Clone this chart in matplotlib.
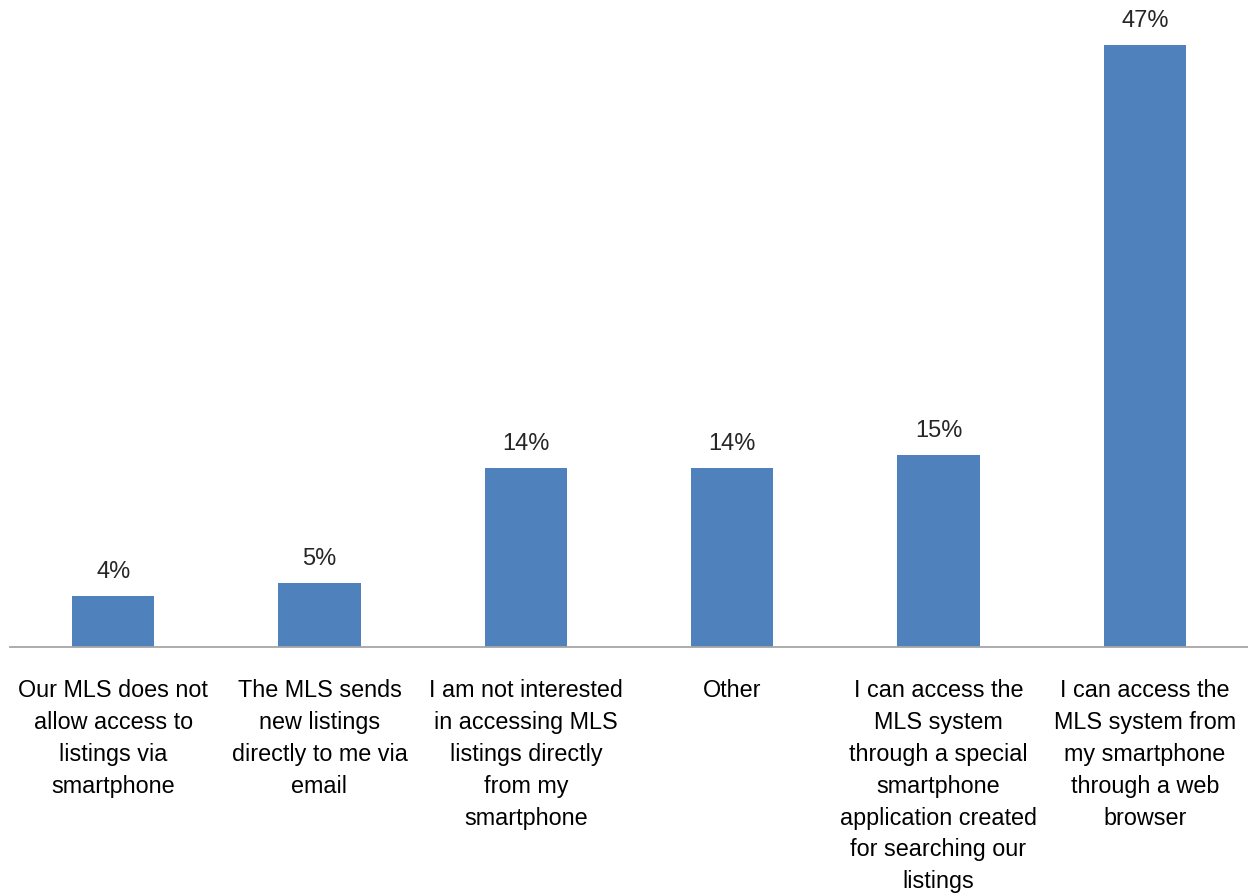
import numpy as np
import matplotlib.pyplot as plt

# Survey responses: how agents reach MLS listings from a smartphone
categories = [
    "Our MLS does not\nallow access to\nlistings via\nsmartphone",
    "The MLS sends\nnew listings\ndirectly to me via\nemail",
    "I am not interested\nin accessing MLS\nlistings directly\nfrom my\nsmartphone",
    "Other",
    "I can access the\nMLS system\nthrough a special\nsmartphone\napplication created\nfor searching our\nlistings",
    "I can access the\nMLS system from\nmy smartphone\nthrough a web\nbrowser",
]
shares = [4, 5, 14, 14, 15, 47]

plt.rcParams['font.family'] = ['Liberation Sans', 'DejaVu Sans']

fig = plt.figure(figsize=(12.48, 8.95), dpi=100)
ax = fig.add_axes([10 / 1248, 1 - 648 / 895, 1238 / 1248, 640 / 895])

x = np.arange(len(shares))
bars = ax.bar(x, shares, width=0.4, color='#4F81BD', zorder=2)

for xi, v in zip(x, shares):
    ax.annotate(f"{v}%", (xi, v), xytext=(0, 18), textcoords='offset points',
                ha='center', va='center', fontsize=17, color='#262626')

ax.set_xlim(-0.5, len(shares) - 0.5)
ax.set_ylim(0, 50)
ax.set_yticks([])
ax.set_xticks([])

for xi, lab in zip(x, categories):
    ax.annotate(lab, (xi, 0), xytext=(0, -22.5), textcoords='offset points',
                ha='center', va='top', fontsize=16.8, linespacing=1.49,
                color='black')

for side in ['top', 'right', 'left']:
    ax.spines[side].set_visible(False)
ax.spines['bottom'].set_color('#A6A6A6')
ax.spines['bottom'].set_linewidth(1.3)

fig.savefig('out.png', dpi=100)
